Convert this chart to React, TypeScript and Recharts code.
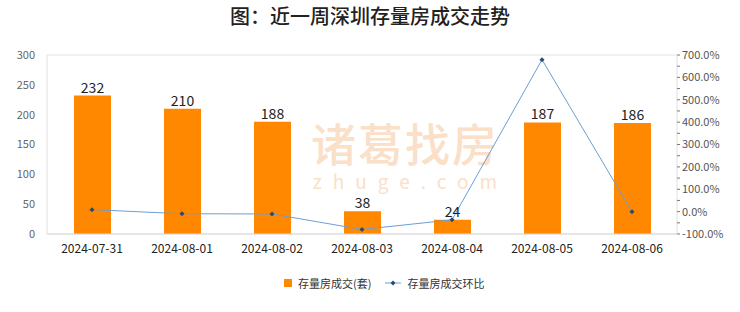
import React from 'react'
import {
  ComposedChart,
  Bar,
  Line,
  XAxis,
  YAxis,
  CartesianGrid,
  LabelList,
} from 'recharts'

const dates = ['2024-07-31', '2024-08-01', '2024-08-02', '2024-08-03', '2024-08-04', '2024-08-05', '2024-08-06']
const deals = [232, 210, 188, 38, 24, 187, 186]
const changePct = [8.9, -9.5, -10.5, -79.8, -36.8, 679.2, -0.5]

const leftTicks = [0, 50, 100, 150, 200, 250, 300]
const rightTicks = [-100, -50, 0, 50, 100, 150, 200, 250, 300, 350, 400, 450, 500, 550, 600, 650, 700]

const BAR_COLOR = '#FF8800'
const LINE_COLOR = '#6A9FD4'
const DOT_COLOR = '#2B4A6F'
const WATERMARK = '#FADFC9'
const FONT = '"Noto Sans CJK SC", "Noto Sans", sans-serif'

const data = dates.map((d, i) => ({ date: d, deals: deals[i], change: changePct[i] }))

function Dot(props: any) {
  const { cx, cy } = props
  if (cx == null || cy == null) return null
  return <path d={`M${cx - 2.5},${cy} L${cx},${cy - 2.5} L${cx + 2.5},${cy} L${cx},${cy + 2.5} Z`} fill={DOT_COLOR} />
}

export default function App() {
  return (
    <div style={{ position: 'absolute', left: 0, top: 0, width: 740, height: 312, background: '#fff', fontFamily: FONT }}>
      <div style={{ position: 'absolute', left: 0, top: 2, width: 740, textAlign: 'center', fontSize: 20, fontWeight: 500, color: '#222', lineHeight: '28px' }}>
        图：近一周深圳存量房成交走势
      </div>
      {/* watermark */}
      <div style={{ position: 'absolute', left: 300, top: 120, width: 210, textAlign: 'center', color: WATERMARK, fontSize: 45, fontWeight: 500, letterSpacing: 2, lineHeight: '45px' }}>
        诸葛找房
      </div>
      <div style={{ position: 'absolute', left: 300, top: 171, width: 210, textAlign: 'center', color: WATERMARK, fontSize: 19, letterSpacing: 11, lineHeight: '19px', textIndent: 11 }}>
        zhuge.com
      </div>
      <div style={{ position: 'absolute', left: 0, top: 0 }}>
        <ComposedChart width={740} height={312} data={data} margin={{ top: 55, right: 0, left: 0, bottom: 54 }}>
          <CartesianGrid vertical={false} stroke="#E4E4E4" />
          <XAxis
            dataKey="date"
            tick={{ fontSize: 12, fill: '#222', fontFamily: FONT }}
            tickLine={false}
            axisLine={{ stroke: '#D9D9D9' }}
            height={24}
            tickMargin={4}
          />
          <YAxis
            yAxisId="left"
            domain={[0, 300]}
            ticks={leftTicks}
            width={47}
            tick={{ fontSize: 11, fill: '#666', fontFamily: FONT }}
            tickLine={false}
            axisLine={{ stroke: '#E0E0E0' }}
            tickMargin={6}
          />
          <YAxis
            yAxisId="right"
            orientation="right"
            domain={[-100, 700]}
            ticks={rightTicks}
            interval={0}
            width={63}
            tick={{ fontSize: 11, fill: '#555', fontFamily: FONT }}
            tickFormatter={(v: number) => (v % 100 === 0 ? `${v.toFixed(1)}%` : '')}
            tickLine={{ stroke: '#777' }}
            tickSize={3}
            axisLine={{ stroke: '#E0E0E0' }}
          />
          <Bar yAxisId="left" dataKey="deals" fill={BAR_COLOR} barSize={37} isAnimationActive={false}>
            <LabelList dataKey="deals" position="top" offset={3} style={{ fontSize: 14, fill: '#222', fontFamily: FONT }} />
          </Bar>
          <Line
            yAxisId="right"
            dataKey="change"
            stroke={LINE_COLOR}
            strokeWidth={1}
            dot={<Dot />}
            activeDot={false}
            isAnimationActive={false}
          />
        </ComposedChart>
      </div>
      {/* legend */}
      <div style={{ position: 'absolute', left: 284, top: 275, display: 'flex', alignItems: 'center', fontSize: 11, color: '#333' }}>
        <span style={{ width: 8, height: 8, background: BAR_COLOR, display: 'inline-block', marginRight: 6 }} />
        <span>存量房成交(套)</span>
        <svg width={16} height={10} style={{ marginLeft: 14, marginRight: 6 }}>
          <line x1={0} y1={5} x2={16} y2={5} stroke={LINE_COLOR} strokeWidth={1} />
          <path d="M8,2.5 L10.5,5 L8,7.5 L5.5,5 Z" fill={DOT_COLOR} />
        </svg>
        <span>存量房成交环比</span>
      </div>
    </div>
  )
}
